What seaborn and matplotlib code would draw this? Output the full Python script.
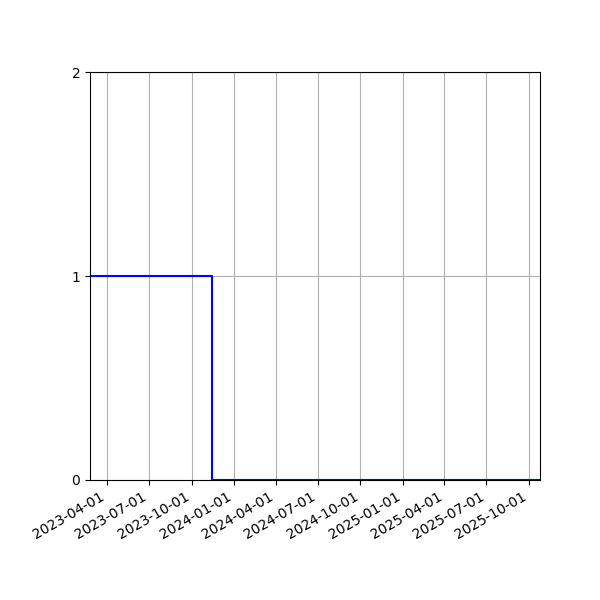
import matplotlib
matplotlib.use("Agg")
import matplotlib.dates as mdates
import matplotlib.pyplot as plt
import pandas as pd
import seaborn as sns

# step series: value holds until the next date
dates = ["2023-02-23", "2023-11-15", "2025-10-25"]
values = [1, 0, 0]


def main():
    df = pd.DataFrame({"date": pd.to_datetime(dates), "value": values})

    fig, ax = plt.subplots(figsize=(6, 6), dpi=100)
    sns.lineplot(x="date", y="value", data=df, ax=ax, color="blue",
                 drawstyle="steps-post", linewidth=1.5)

    ax.set_xlim(df["date"].min(), df["date"].max())
    ax.set_ylim(0, 2)
    ax.set_yticks([0, 1, 2])
    ax.xaxis.set_major_locator(mdates.MonthLocator(bymonth=[1, 4, 7, 10]))
    ax.xaxis.set_major_formatter(mdates.DateFormatter("%Y-%m-%d"))
    ax.grid(True)
    ax.set_xlabel("")
    ax.set_ylabel("")
    for lbl in ax.get_xticklabels():
        lbl.set_rotation(30)
        lbl.set_ha("right")

    fig.subplots_adjust(left=0.15, right=0.9, top=0.88, bottom=0.2)
    fig.savefig("out.png", dpi=100)


if __name__ == "__main__":
    main()
